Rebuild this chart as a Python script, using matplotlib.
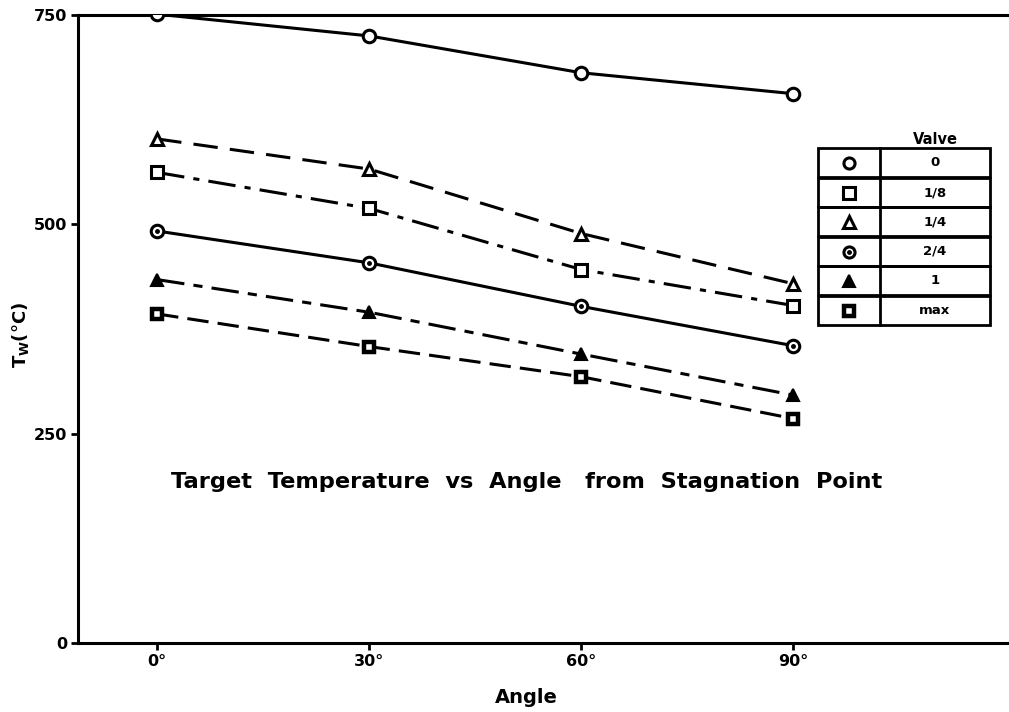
import numpy as np
import matplotlib
matplotlib.use('Agg')
import matplotlib.pyplot as plt
from matplotlib.patches import Rectangle

# angle from stagnation point (deg)
angles = [0, 30, 60, 90]
angle_labels = ['0°', '30°', '60°', '90°']

# wall temperature Tw (C) per valve setting
tw_0 = [751, 725, 681, 656]
tw_1_8 = [562, 519, 446, 403]
tw_1_4 = [602, 566, 489, 429]
tw_2_4 = [492, 454, 402, 355]
tw_1 = [434, 395, 345, 296]
tw_max = [393, 354, 318, 268]

valves = ['0', '1/8', '1/4', '2/4', '1', 'max']
y_ticks = [0, 250, 500, 750]

plt.rcParams['font.family'] = 'DejaVu Sans'
plt.rcParams['font.weight'] = 'bold'

fig = plt.figure(figsize=(10.09, 7.12), dpi=100)
ax = fig.add_axes([78/1009, 69/712, 931/1009, 628/712])

lw = 2.2
ms = 9
styles = {
    '0':   dict(marker='o', ls='-', mfc='white', mew=2.2),
    '1/8': dict(marker='s', ls=(0, (9, 3, 2, 3)), mfc='white', mew=2.2),
    '1/4': dict(marker='^', ls=(0, (8, 4)), mfc='white', mew=2.2),
    '2/4': dict(marker='o', ls='-', mfc='white', mew=2.2),
    '1':   dict(marker='^', ls=(0, (9, 3, 3, 3)), mfc='black', mew=1.5),
    'max': dict(marker='s', ls=(0, (7, 3)), mfc='white', mew=3.2),
}
series = [tw_0, tw_1_8, tw_1_4, tw_2_4, tw_1, tw_max]

for v, ys in zip(valves, series):
    st = styles[v]
    ax.plot(angles, ys, color='black', lw=lw, ls=st['ls'], marker=st['marker'],
            ms=ms if v != 'max' else 7, mfc=st['mfc'], mec='black', mew=st['mew'],
            zorder=3)
    if v == '2/4':
        ax.plot(angles, ys, ls='none', marker='o', ms=2.5, color='black', zorder=4)

ax.set_xlim(-11.2, 120.5)
ax.set_ylim(0, 750)
ax.set_xticks(angles)
ax.set_xticklabels(angle_labels, fontsize=11.5, fontweight='bold')
ax.set_yticks(y_ticks)
ax.set_yticklabels([str(t) for t in y_ticks], fontsize=11.5, fontweight='bold')
ax.tick_params(direction='out', length=5, width=2, pad=3)
ax.spines['right'].set_visible(False)
for s in ['left', 'bottom', 'top']:
    ax.spines[s].set_linewidth(2.2)

ax.set_xlabel('Angle', fontsize=14, fontweight='bold')
ax.xaxis.set_label_coords(0.482, -0.072)
ax.set_ylabel(r'T$_{\mathbf{W}}$(°C)', fontsize=13, fontweight='bold')
ax.yaxis.set_label_coords(-0.050, 0.49)

ax.text(0.482, 0.256, 'Target  Temperature  vs  Angle   from  Stagnation  Point',
        transform=ax.transAxes, ha='center', va='center', fontsize=16.2,
        fontweight='bold')

# legend table drawn by hand in figure pixels
W, H = 1009, 712
def fx(px):
    return px / W
def fy(py):
    return 1 - py / H

x0, xm, x1 = 818, 880, 990
row_tops = [148, 178, 207, 237, 266, 296]
row_h = 29
fig.text(fx(935), fy(140), 'Valve', ha='center', va='center', fontsize=10.5,
         fontweight='bold')
for i, v in enumerate(valves):
    top = row_tops[i]
    fig.add_artist(Rectangle((fx(x0), fy(top + row_h)), fx(x1 - x0), row_h / H,
                             fill=False, lw=2, ec='black', transform=fig.transFigure))
    fig.add_artist(plt.Line2D([fx(xm), fx(xm)], [fy(top), fy(top + row_h)],
                              color='black', lw=2, transform=fig.transFigure))
    st = styles[v]
    yc = fy(top + row_h / 2)
    fig.add_artist(plt.Line2D([fx(849)], [yc], marker=st['marker'],
                              ms=8 if v != 'max' else 7, mfc=st['mfc'], mec='black',
                              mew=st['mew'], ls='none', transform=fig.transFigure))
    if v == '2/4':
        fig.add_artist(plt.Line2D([fx(849)], [yc], marker='o', ms=2.5, color='black',
                                  ls='none', transform=fig.transFigure))
    fig.text(fx(935), yc, v, ha='center', va='center', fontsize=9.5, fontweight='bold')

fig.savefig('out.png', dpi=100)
